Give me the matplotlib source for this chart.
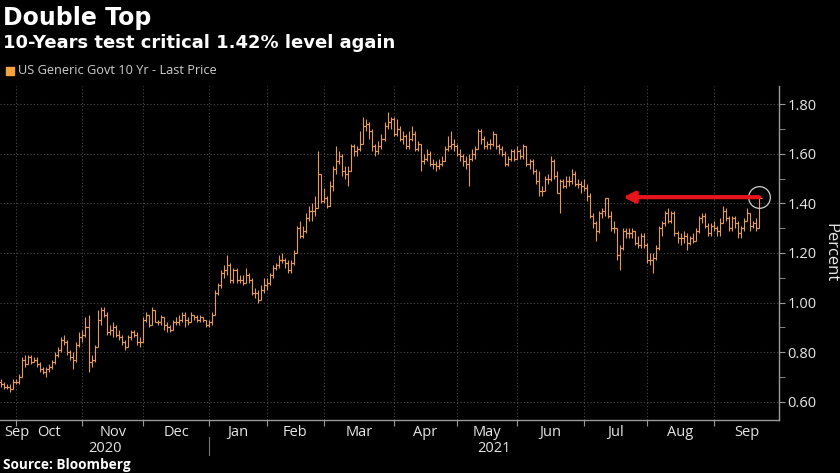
import numpy as np
import pandas as pd
import matplotlib
matplotlib.use('Agg')
import matplotlib.pyplot as plt
from matplotlib.collections import LineCollection
from matplotlib.ticker import MultipleLocator, FixedLocator
import matplotlib.transforms as mtransforms

plt.rcParams['font.family'] = ['Open Sans', 'DejaVu Sans']

# daily OHLC of US Generic Govt 10 Yr, 24 Sep 2020 - 23 Sep 2021
opens = [.68, .67, .66, .66, .65,
         .68, .68, .70, .77, .75, .78, .76, .77, .75, .73, .72, .73, .74, .76, .79, .81, .85, .84, .80, .78, .77, .83,
         .86, .87, .90, .76, .77, .82, .93, .97, .95, .88, .89, .90, .87, .86, .84, .82, .86, .88, .87, .84,
         .84, .93, .95, .91, .97, .92, .92, .94, .91, .90, .89, .92, .92, .93, .95, .93, .92, .95, .94, .93, .94, .93,
         .91, .92, .95, 1.04, 1.07, 1.12, 1.13, 1.15, 1.09, 1.13, 1.09, 1.09, 1.08, 1.11, 1.09, 1.04, 1.04, 1.01, 1.05,
         1.07, 1.08, 1.11, 1.14, 1.15, 1.17, 1.17, 1.16, 1.13, 1.16, 1.20, 1.30, 1.27, 1.29, 1.34, 1.37, 1.37, 1.38, 1.52,
         1.41, 1.42, 1.39, 1.47, 1.54, 1.57, 1.59, 1.53, 1.52, 1.53, 1.63, 1.61, 1.62, 1.64, 1.71, 1.72, 1.69, 1.63, 1.61, 1.63, 1.66, 1.71, 1.73,
         1.74, 1.68, 1.70, 1.66, 1.67, 1.63, 1.66, 1.68, 1.62, 1.64, 1.57, 1.58, 1.60, 1.56, 1.56, 1.55, 1.56, 1.57, 1.62, 1.63, 1.64,
         1.63, 1.60, 1.59, 1.57, 1.56, 1.58, 1.60, 1.62, 1.69, 1.66, 1.63, 1.64, 1.64, 1.68, 1.63, 1.62, 1.60, 1.56, 1.58, 1.61,
         1.58, 1.61, 1.59, 1.63, 1.56, 1.57, 1.53, 1.49, 1.45, 1.45, 1.50, 1.50, 1.57, 1.51, 1.44, 1.49, 1.47, 1.49, 1.49, 1.52, 1.48, 1.48,
         1.47, 1.46, 1.43, 1.35, 1.32, 1.29, 1.36, 1.37, 1.42, 1.35, 1.30, 1.30, 1.19, 1.22, 1.29, 1.28, 1.28, 1.29, 1.24, 1.23, 1.27,
         1.23, 1.17, 1.17, 1.18, 1.22, 1.30, 1.32, 1.36, 1.33, 1.36, 1.28, 1.26, 1.26, 1.27, 1.24, 1.26, 1.25, 1.29, 1.34, 1.35, 1.31, 1.28,
         1.31, 1.30, 1.29, 1.32, 1.37, 1.34, 1.30, 1.34, 1.32, 1.28, 1.30, 1.33, 1.36, 1.31, 1.32, 1.30]
highs = [.69, .68, .67, .67, .69,
         .69, .71, .78, .79, .79, .79, .78, .78, .76, .74, .74, .75, .77, .80, .82, .86, .87, .85, .81, .80, .84, .88,
         .89, .94, .95, .79, .83, .97, .98, .98, .96, .91, .92, .91, .89, .87, .85, .87, .89, .89, .88, .86,
         .94, .96, .95, .98, .97, .93, .95, .94, .92, .91, .93, .94, .95, .96, .96, .94, .96, .95, .95, .95, .94, .93,
         .93, .96, 1.05, 1.08, 1.13, 1.15, 1.19, 1.16, 1.14, 1.14, 1.11, 1.11, 1.14, 1.12, 1.10, 1.06, 1.05, 1.07, 1.10,
         1.10, 1.12, 1.15, 1.16, 1.19, 1.20, 1.18, 1.17, 1.17, 1.21, 1.31, 1.33, 1.31, 1.36, 1.39, 1.40, 1.43, 1.61, 1.52,
         1.46, 1.43, 1.49, 1.55, 1.63, 1.61, 1.60, 1.55, 1.55, 1.64, 1.64, 1.63, 1.69, 1.75, 1.74, 1.73, 1.70, 1.64, 1.65, 1.68, 1.73, 1.77, 1.75,
         1.75, 1.74, 1.71, 1.69, 1.68, 1.69, 1.71, 1.69, 1.65, 1.64, 1.60, 1.62, 1.61, 1.58, 1.57, 1.58, 1.59, 1.63, 1.67, 1.69, 1.66,
         1.64, 1.62, 1.60, 1.59, 1.60, 1.62, 1.63, 1.70, 1.70, 1.67, 1.65, 1.66, 1.69, 1.68, 1.64, 1.63, 1.61, 1.59, 1.62, 1.62,
         1.63, 1.62, 1.64, 1.63, 1.58, 1.58, 1.54, 1.53, 1.47, 1.51, 1.52, 1.59, 1.58, 1.53, 1.50, 1.50, 1.51, 1.51, 1.54, 1.53, 1.50, 1.49,
         1.50, 1.48, 1.44, 1.36, 1.33, 1.37, 1.38, 1.42, 1.42, 1.37, 1.33, 1.30, 1.23, 1.30, 1.30, 1.30, 1.30, 1.29, 1.27, 1.28, 1.28,
         1.24, 1.20, 1.20, 1.23, 1.31, 1.33, 1.37, 1.38, 1.37, 1.37, 1.29, 1.28, 1.29, 1.28, 1.27, 1.28, 1.30, 1.35, 1.36, 1.36, 1.32, 1.32,
         1.33, 1.31, 1.34, 1.39, 1.38, 1.35, 1.35, 1.35, 1.33, 1.31, 1.34, 1.38, 1.36, 1.33, 1.34, 1.43]
lows = [.66, .65, .65, .64, .65,
        .67, .67, .70, .74, .75, .75, .76, .74, .72, .71, .70, .72, .73, .75, .78, .80, .83, .79, .77, .73, .76, .82,
        .84, .86, .72, .74, .76, .82, .91, .94, .87, .87, .86, .86, .85, .83, .81, .82, .85, .86, .83, .82,
        .84, .92, .90, .91, .92, .91, .91, .89, .88, .88, .89, .91, .91, .92, .90, .91, .92, .93, .92, .92, .92, .90,
        .90, .91, .95, 1.03, 1.06, 1.10, 1.11, 1.08, 1.08, 1.08, 1.08, 1.07, 1.08, 1.08, 1.03, 1.02, 1.00, 1.01, 1.04,
        1.05, 1.07, 1.10, 1.13, 1.14, 1.16, 1.14, 1.12, 1.12, 1.15, 1.20, 1.26, 1.26, 1.28, 1.33, 1.33, 1.35, 1.38, 1.40,
        1.40, 1.38, 1.39, 1.45, 1.52, 1.56, 1.51, 1.50, 1.47, 1.53, 1.59, 1.59, 1.61, 1.64, 1.69, 1.66, 1.61, 1.59, 1.60, 1.62, 1.65, 1.70, 1.70,
        1.67, 1.67, 1.65, 1.64, 1.62, 1.62, 1.65, 1.61, 1.61, 1.53, 1.56, 1.57, 1.55, 1.54, 1.53, 1.54, 1.55, 1.57, 1.61, 1.62, 1.61,
        1.59, 1.57, 1.55, 1.54, 1.47, 1.57, 1.58, 1.62, 1.64, 1.62, 1.62, 1.62, 1.63, 1.62, 1.60, 1.59, 1.55, 1.55, 1.57, 1.57,
        1.58, 1.58, 1.58, 1.55, 1.54, 1.52, 1.48, 1.43, 1.43, 1.45, 1.48, 1.49, 1.50, 1.44, 1.36, 1.46, 1.46, 1.47, 1.48, 1.47, 1.46, 1.44,
        1.45, 1.41, 1.34, 1.30, 1.25, 1.28, 1.34, 1.35, 1.34, 1.29, 1.28, 1.17, 1.13, 1.21, 1.26, 1.26, 1.26, 1.23, 1.22, 1.22, 1.22,
        1.16, 1.15, 1.12, 1.17, 1.21, 1.27, 1.31, 1.32, 1.32, 1.27, 1.24, 1.23, 1.24, 1.21, 1.23, 1.24, 1.25, 1.28, 1.32, 1.30, 1.27, 1.27,
        1.29, 1.27, 1.27, 1.32, 1.33, 1.29, 1.29, 1.30, 1.26, 1.26, 1.29, 1.33, 1.29, 1.30, 1.29, 1.30]
closes = [.67, .66, .66, .65, .68,
          .68, .70, .77, .75, .78, .76, .77, .75, .73, .72, .73, .74, .76, .79, .81, .85, .84, .80, .78, .77, .83, .86,
          .87, .90, .76, .77, .82, .93, .97, .95, .88, .89, .90, .87, .86, .84, .82, .86, .88, .87, .84, .84,
          .93, .95, .91, .97, .92, .92, .94, .91, .90, .89, .92, .92, .93, .95, .93, .92, .95, .94, .93, .94, .93, .91,
          .92, .95, 1.04, 1.07, 1.12, 1.13, 1.15, 1.09, 1.13, 1.09, 1.09, 1.08, 1.11, 1.09, 1.04, 1.04, 1.01, 1.05, 1.07,
          1.08, 1.11, 1.14, 1.15, 1.17, 1.17, 1.16, 1.13, 1.16, 1.20, 1.30, 1.27, 1.29, 1.34, 1.37, 1.37, 1.38, 1.52, 1.41,
          1.42, 1.39, 1.47, 1.54, 1.57, 1.59, 1.53, 1.52, 1.53, 1.63, 1.61, 1.62, 1.64, 1.71, 1.72, 1.69, 1.63, 1.61, 1.63, 1.66, 1.71, 1.73, 1.74,
          1.68, 1.70, 1.66, 1.67, 1.63, 1.66, 1.68, 1.62, 1.64, 1.57, 1.58, 1.60, 1.56, 1.56, 1.55, 1.56, 1.57, 1.62, 1.63, 1.64, 1.63,
          1.60, 1.59, 1.57, 1.56, 1.58, 1.60, 1.62, 1.69, 1.66, 1.63, 1.64, 1.64, 1.68, 1.63, 1.62, 1.60, 1.56, 1.58, 1.61, 1.58,
          1.61, 1.59, 1.63, 1.56, 1.57, 1.53, 1.49, 1.45, 1.45, 1.50, 1.50, 1.57, 1.51, 1.44, 1.49, 1.47, 1.49, 1.49, 1.52, 1.48, 1.48, 1.47,
          1.46, 1.43, 1.35, 1.32, 1.29, 1.36, 1.37, 1.42, 1.35, 1.30, 1.30, 1.19, 1.22, 1.29, 1.28, 1.28, 1.29, 1.24, 1.23, 1.27, 1.23,
          1.17, 1.17, 1.18, 1.22, 1.30, 1.32, 1.36, 1.33, 1.36, 1.28, 1.26, 1.26, 1.27, 1.24, 1.26, 1.25, 1.29, 1.34, 1.35, 1.31, 1.28, 1.31,
          1.30, 1.29, 1.32, 1.37, 1.34, 1.30, 1.34, 1.32, 1.28, 1.30, 1.33, 1.36, 1.31, 1.32, 1.30, 1.42]

holidays = ['2020-11-26', '2020-12-25', '2021-01-01', '2021-01-18', '2021-02-15',
            '2021-04-02', '2021-05-31', '2021-07-05', '2021-09-06']
dates = pd.bdate_range('2020-09-24', '2021-09-30', freq='C', holidays=holidays)

level = 1.425           # the "critical" level marked by the arrow
arrow_tip_date = '2021-07-21'

n = min(len(opens), len(highs), len(lows), len(closes))
dates = dates[:n]
x = np.arange(n)

bg = 'black'
bar_col = '#e39b55'
grid_col = '#4a4a4a'
axis_col = '#9a9a9a'
txt_col = '#e6e6e6'

fig = plt.figure(figsize=(8.4, 4.73), dpi=100, facecolor=bg)
ax = fig.add_axes([0, 0.112, 779 / 840, 0.818 - 0.112], facecolor=bg)

segs = []
for i in range(n):
    segs.append([(x[i], lows[i]), (x[i], highs[i])])
    segs.append([(x[i] - 0.9, opens[i]), (x[i], opens[i])])
    segs.append([(x[i], closes[i]), (x[i] + 0.9, closes[i])])
ax.add_collection(LineCollection(segs, colors=bar_col, linewidths=0.8))

ax.set_xlim(-0.3, 257.6)
ax.set_ylim(0.526, 1.873)

# month boundaries
month_starts = [i for i in range(n) if i == 0 or dates[i].month != dates[i - 1].month][1:]
ax.xaxis.set_major_locator(FixedLocator(month_starts))
ax.set_xticklabels([])
ax.tick_params(axis='x', length=4, color=axis_col, direction='out')

ax.yaxis.tick_right()
ax.yaxis.set_label_position('right')
ax.yaxis.set_major_locator(MultipleLocator(0.2))
ax.yaxis.set_minor_locator(MultipleLocator(0.1))
ax.yaxis.set_major_formatter(plt.FuncFormatter(lambda v, p: '%.2f' % v))
ax.tick_params(axis='y', which='both', length=4, color=axis_col, labelcolor=txt_col,
               labelsize=10.5, pad=2)
ax.set_ylabel('Percent', color=txt_col, fontsize=12, rotation=270, labelpad=16)

ax.grid(True, which='major', color=grid_col, linestyle=(0, (1, 2)), linewidth=0.8)
for s in ['top', 'left']:
    ax.spines[s].set_visible(False)
for s in ['right', 'bottom']:
    ax.spines[s].set_color(axis_col)
    ax.spines[s].set_linewidth(1)

# month and year labels
trans = mtransforms.blended_transform_factory(ax.transData, ax.transAxes)
bounds = month_starts + [257.6]
ax.text(1, -0.016, dates[0].strftime('%b'), transform=trans, ha='left', va='top',
        color=txt_col, fontsize=10.5)
for k in range(len(month_starts)):
    mid = (bounds[k] + bounds[k + 1]) / 2
    ax.text(mid, -0.016, dates[month_starts[k]].strftime('%b'), transform=trans,
            ha='center', va='top', color=txt_col, fontsize=10.5)

year_start = [i for i in month_starts if dates[i].month == 1][0]
ax.text(year_start / 2, -0.063, '2020', transform=trans, ha='center', va='top',
        color=txt_col, fontsize=10.5)
ax.text((year_start + 257.6) / 2, -0.063, '2021', transform=trans, ha='center', va='top',
        color=txt_col, fontsize=10.5)
ax.plot([year_start, year_start], [-0.05, -0.105], transform=trans, color='#777777',
        lw=0.8, clip_on=False)

# arrow to the earlier high and circle on the last bar
tip = list(dates).index(pd.Timestamp(arrow_tip_date))
ax.annotate('', xy=(tip, level), xytext=(x[-1], level),
            arrowprops=dict(arrowstyle='-|>', color='#e8141c', lw=3, mutation_scale=16,
                            shrinkA=0, shrinkB=0))
ax.plot(x[-1], level, 'o', ms=15.6, mfc='none', mec='#d0d0d0', mew=0.9)

# titles, legend, source
fig.text(0.004, 0.963, 'Double Top', color='white', fontsize=17, fontweight='bold',
         va='center', family=['DejaVu Sans'])
fig.text(0.004, 0.909, '10-Years test critical 1.42% level again', color='white',
         fontsize=13, fontweight='bold', va='center', family=['DejaVu Sans'])
fig.patches.append(plt.Rectangle((6 / 840, 1 - 75 / 473), 8 / 840, 8 / 473,
                                 transform=fig.transFigure, color='#f5a340'))
fig.text(18 / 840, 1 - 71 / 473, 'US Generic Govt 10 Yr - Last Price', color='#cfcfcf',
         fontsize=9.2, va='center')
fig.text(0.004, 1 - 465 / 473, 'Source: Bloomberg', color='white', fontsize=9.8,
         fontweight='bold', va='center')

fig.savefig('out.png', dpi=100, facecolor=bg)
